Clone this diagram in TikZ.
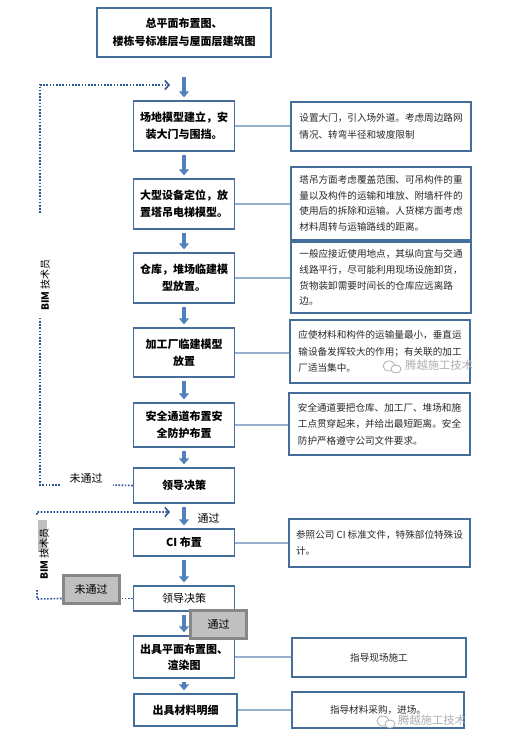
\documentclass[tikz,border=0pt]{standalone}
\usepackage{fontspec}
\setmainfont{Noto Sans CJK SC}
\usetikzlibrary{arrows.meta}
\definecolor{boxc}{RGB}{70,110,155}
\definecolor{arrc}{RGB}{79,129,189}
\definecolor{linkc}{RGB}{150,175,205}
\definecolor{dotc}{RGB}{45,85,150}
\definecolor{gfill}{RGB}{192,192,192}
\definecolor{gdraw}{RGB}{135,135,135}
\definecolor{txtc}{RGB}{40,40,40}
\definecolor{wmc}{RGB}{175,175,175}
\begin{document}
\begin{tikzpicture}[x=1pt,y=-1pt,
 mainbox/.style={draw=boxc,line width=1.3pt,fill=white,align=center,inner sep=0pt,font=\fontsize{11}{17}\selectfont\bfseries},
 notebox/.style={draw=boxc,line width=1.3pt,fill=white,align=left,inner sep=0pt,text=txtc,font=\fontsize{9.6}{16}\selectfont},
 flow/.style={draw=arrc,line width=4pt,-{Triangle[width=10pt,length=6pt]},shorten <=3pt,shorten >=3pt},
 link/.style={draw=linkc,line width=2pt},
 loopline/.style={draw=dotc,line width=1.6pt,dash pattern=on 1.6pt off 1.6pt},
 looptip/.style={-{Straight Barb[length=4pt,width=9pt]}},
 graybox/.style={draw=gdraw,fill=gfill,line width=3pt,inner sep=0pt,font=\fontsize{11}{13}\selectfont,minimum width=56pt,minimum height=28pt},
 lbl/.style={font=\fontsize{11}{13}\selectfont,inner sep=1pt},
 bimlbl/.style={rotate=90,font=\fontsize{10}{12}\selectfont,inner sep=1pt},
 wm/.style={text=wmc,font=\fontsize{11.3}{13}\selectfont,inner sep=0pt}
]
\useasboundingbox (0,0) rectangle (509,745);
\fill[white] (0,0) rectangle (509,745);

% main column
\node[mainbox,minimum width=174pt,minimum height=49pt,font=\fontsize{11}{18}\selectfont\bfseries] (top) at (184,32.5) {总平面布置图、\\楼栋号标准层与屋面层建筑图};
\node[mainbox,minimum width=101pt,minimum height=50pt] (b1) at (184,126) {场地模型建立，安\\装大门与围挡。};
\node[mainbox,minimum width=101pt,minimum height=50pt] (b2) at (184,204) {大型设备定位，放\\置塔吊电梯模型。};
\node[mainbox,minimum width=101pt,minimum height=50pt] (b3) at (184,278) {仓库，堆场临建模\\型放置。};
\node[mainbox,minimum width=101pt,minimum height=49pt] (b4) at (184,352.5) {加工厂临建模型\\放置};
\node[mainbox,minimum width=101pt,minimum height=44pt] (b5) at (184,425) {安全通道布置安\\全防护布置};
\node[mainbox,minimum width=101pt,minimum height=35pt] (b6) at (184,485.5) {领导决策};
\node[mainbox,minimum width=101pt,minimum height=27pt] (b7) at (184,542.5) {CI 布置};
\node[mainbox,minimum width=101pt,minimum height=25pt,font=\fontsize{11}{17}\selectfont] (b8) at (184,598.5) {领导决策};
\node[mainbox,minimum width=101pt,minimum height=42pt,font=\fontsize{11}{16}\selectfont\bfseries] (b9) at (184,657) {出具平面布置图、\\渲染图};
\node[mainbox,minimum width=103pt,minimum height=32pt] (b10) at (185.5,710) {出具材料明细};

% note column
\node[notebox,minimum width=180pt,minimum height=49pt,font=\fontsize{9.6}{17}\selectfont] (r1) at (381,126.5) {设置大门，引入场外道。考虑周边路网\\情况、转弯半径和坡度限制};
\node[notebox,minimum width=180pt,minimum height=73pt,font=\fontsize{9.6}{15.5}\selectfont] (r2) at (381,203.5) {塔吊方面考虑覆盖范围、可吊构件的重\\量以及构件的运输和堆放、附墙杆件的\\使用后的拆除和运输。人货梯方面考虑\\材料周转与运输路线的距离。};
\node[notebox,minimum width=180pt,minimum height=71pt,font=\fontsize{9.6}{15.7}\selectfont] (r3) at (381,277.5) {一般应接近使用地点，其纵向宜与交通\\线路平行，尽可能利用现场设施卸货，\\货物装卸需要时间长的仓库应远离路\\边。};
\node[notebox,minimum width=180pt,minimum height=63pt,font=\fontsize{9.6}{16.5}\selectfont] (r4) at (380,351.5) {应使材料和构件的运输量最小，垂直运\\输设备发挥较大的作用；有关联的加工\\厂适当集中。};
\node[notebox,minimum width=181pt,minimum height=62pt,font=\fontsize{9.6}{16.5}\selectfont] (r5) at (379.5,424) {安全通道要把仓库、加工厂、堆场和施\\工点贯穿起来，并给出最短距离。安全\\防护严格遵守公司文件要求。};
\node[notebox,minimum width=181pt,minimum height=48pt] (r7) at (379.5,543) {参照公司 CI 标准文件，特殊部位特殊设\\计。};
\node[notebox,minimum width=174pt,minimum height=39pt,align=center] (r9) at (379,657.5) {指导现场施工};
\node[notebox,minimum width=172pt,minimum height=36pt,align=center] (r10) at (378,710) {指导材料采购，进场。};

% links
\foreach \a/\b in {b1/r1,b2/r2,b3/r3,b4/r4,b5/r5,b7/r7,b9/r9,b10/r10}
  \draw[link] (\a.east) -- (\a.east -| \b.west);

% flow arrows
\draw[flow,shorten <=19pt] (top.south) -- (b1.north);
\draw[flow] (b1.south) -- (b2.north);
\draw[flow] (b2.south) -- (b3.north);
\draw[flow] (b3.south) -- (b4.north);
\draw[flow] (b4.south) -- (b5.north);
\draw[flow] (b5.south) -- (b6.north);
\draw[flow] (b6.south) -- (b7.north);
\draw[flow] (b7.south) -- (b8.north);
\draw[flow] (b8.south) -- (b9.north);
\draw[flow] (b9.south) -- (b9.south |- b10.north);

% loop 1 (not passed -> back to site model)
\node[lbl] (nt1) at (86,478) {未通过};
\coordinate (c1a) at (113,485);
\coordinate (c1b) at (60,485);
\coordinate (c1c) at (40,485);
\coordinate (c1d) at (40,318);
\coordinate (c1e) at (40,213);
\coordinate (c1f) at (40,85);
\coordinate (t1) at (170,85);
\draw[loopline] (b6.west) -- (c1a);
\draw[loopline] (c1b) -- (c1c) -- (c1d);
\draw[loopline,looptip] (c1e) -- (c1f) -- (t1);
\node[bimlbl] (bim1) at (45,285) {\textbf{BIM} 技术员};

% loop 2
\node[lbl] (ok1) at (208.5,518) {通过};
\node[graybox] (nt2) at (91,589) {未通过};
\coordinate (c2a) at (37,599);
\coordinate (c2b) at (37,512);
\coordinate (t2) at (170,512);
\draw[loopline] (b8.west) -- (b8.west -| nt2.east);
\draw[loopline,looptip] (b8.west -| nt2.west) -- (c2a) -- (c2b) -- (t2);
\fill[white] (33,516) rectangle (57,590);
\fill[gfill] (37.5,520) rectangle (47,552);
\node[bimlbl] (bim2) at (44,554) {\textbf{BIM} 技术员};
\node[graybox] (ok2) at (218.5,624) {通过};

% watermarks
\node[wm,anchor=west] (wm1) at (405,365) {腾越施工技术};
\draw[wmc,line width=0.8pt] (389,366) ellipse (6pt and 5pt);
\draw[wmc,line width=0.8pt,fill=white] (396,369) ellipse (5pt and 4pt);
\node[wm,anchor=west] (wm2) at (398,720) {腾越施工技术};
\draw[wmc,line width=0.8pt] (383,721) ellipse (6pt and 5pt);
\draw[wmc,line width=0.8pt,fill=white] (390,724) ellipse (5pt and 4pt);
\end{tikzpicture}
\end{document}
